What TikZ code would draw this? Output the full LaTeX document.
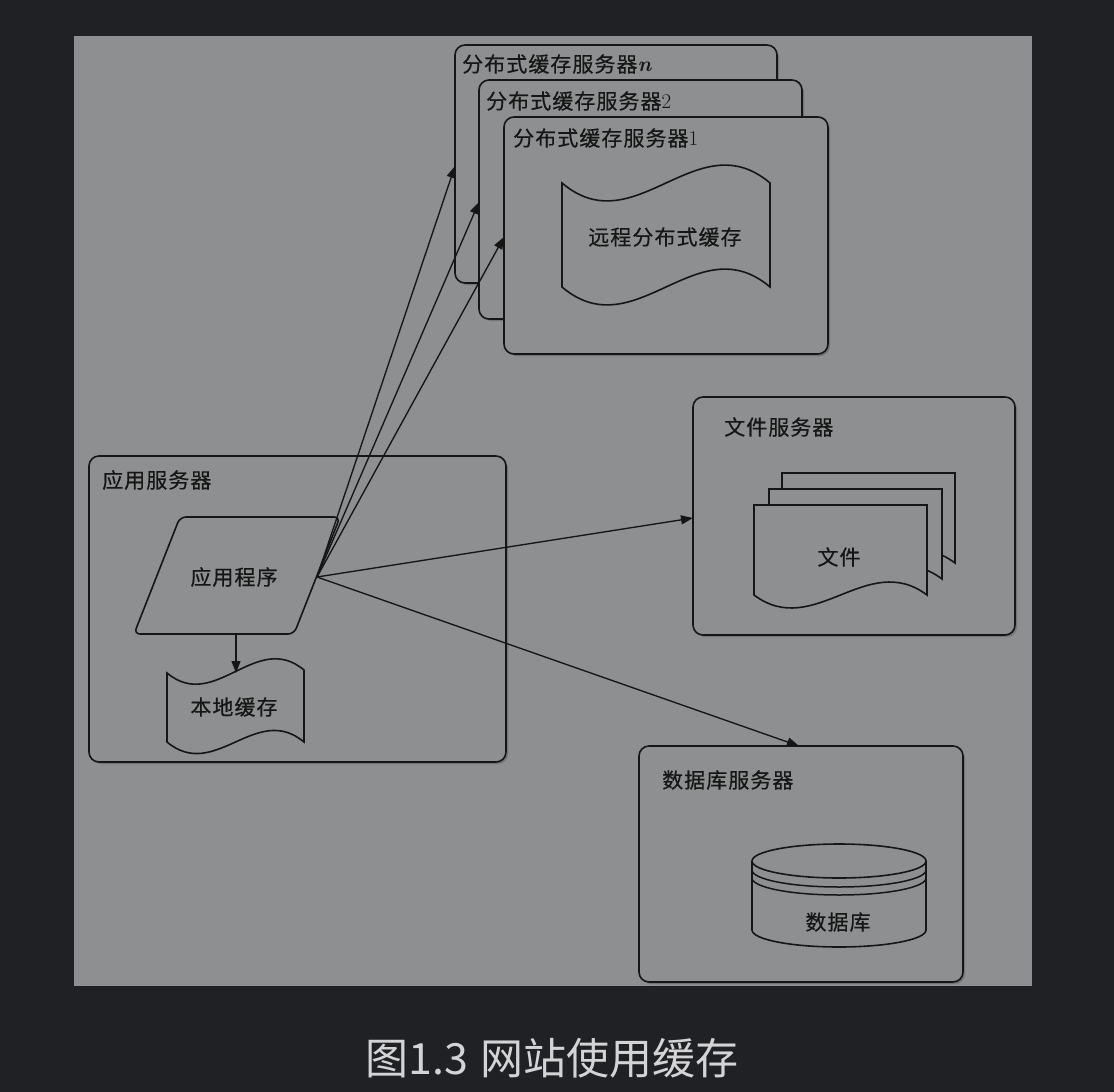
\documentclass[tikz,border=0pt]{standalone}
\usepackage{fontspec}
\newfontfamily\cjk{Noto Sans CJK SC}[LetterSpace=5,FakeBold=0.4]
\newfontfamily\cjkplain{Noto Sans CJK SC}
\usetikzlibrary{arrows.meta,shadows}
\definecolor{bgdark}{RGB}{32,33,36}
\definecolor{panel}{RGB}{142,143,144}
\definecolor{ink}{RGB}{22,22,22}
\definecolor{captxt}{RGB}{212,212,214}
\tikzset{
  srv/.style={draw=ink, line width=1.6pt, rounded corners=10pt, fill=panel,
    inner sep=0pt, outer sep=0pt, anchor=north west,
    drop shadow={shadow xshift=2pt, shadow yshift=-2pt, fill=black, opacity=0.18}},
  lbl/.style={font=\cjk\fontsize{21}{25}\selectfont, text=ink, anchor=west, inner sep=0pt},
  txt/.style={font=\cjk\fontsize{21}{25}\selectfont, text=ink, inner sep=0pt},
  arr/.style={draw=ink, line width=1.35pt, -{Triangle[length=12pt,width=9pt]}},
  shp/.style={draw=ink, line width=1.6pt, fill=panel},
}
\begin{document}
\begin{tikzpicture}[x=1pt,y=-1pt]
\useasboundingbox (0,0) rectangle (1114,1092);
\fill[bgdark] (0,0) rectangle (1114,1092);
\fill[panel] (74,36) rectangle (1032,986);

% distributed cache servers
\node[srv, minimum width=322pt, minimum height=238pt] (sn) at (455,45) {};
\node[lbl] (snl) at (462,64) {分布式缓存服务器{\normalfont\bfseries\itshape n}};
\node[srv, minimum width=323pt, minimum height=239pt] (s2) at (479,80) {};
\node[lbl] (s2l) at (486,101) {分布式缓存服务器{\normalfont 2}};
\node[srv, minimum width=324pt, minimum height=237pt] (s1) at (504,117) {};
\node[lbl] (s1l) at (513,138) {分布式缓存服务器{\normalfont 1}};
\filldraw[shp] (562,183) .. controls (635,245) and (697,121) .. (770,183)
  -- (770,287) .. controls (697,225) and (635,349) .. (562,287) -- cycle;
\node[txt] (rc) at (665,237) {远程分布式缓存};

% application server
\node[srv, minimum width=417pt, minimum height=306pt] (as) at (89,456) {};
\node[lbl] (asl) at (102,480) {应用服务器};
\filldraw[shp, rounded corners=6pt] (180,517) -- (340,517) -- (294,634) -- (134,634) -- cycle;
\node[txt] (prog) at (234,577) {应用程序};
\coordinate (appout) at (317,577);
\coordinate (progbot) at (236,634);
\coordinate (lctop) at (236,673);
\filldraw[shp] (167,673) .. controls (215,713) and (256,630) .. (304,670)
  -- (304,742) .. controls (256,702) and (215,782) .. (167,742) -- cycle;
\node[txt] (lc) at (234,707) {本地缓存};
\draw[arr] (progbot) -- (lctop);

% file server
\node[srv, minimum width=322pt, minimum height=238pt] (fs) at (693,397) {};
\node[lbl] (fsl) at (724,427) {文件服务器};
\foreach \dx/\dy in {28/-32, 15/-16, 0/0} {
  \filldraw[shp, shift={(\dx,\dy)}] (754,505) -- (927,505) -- (927,595)
    .. controls (867,550) and (814,640) .. (754,595) -- cycle;
}
\node[txt] (file) at (839,557) {文件};

% database server
\node[srv, minimum width=324pt, minimum height=236pt] (db) at (639,746) {};
\node[lbl] (dbl) at (662,780) {数据库服务器};
\filldraw[shp] (752,861) -- (752,930) .. controls (752,939.4) and (791,947) .. (839,947)
  .. controls (887,947) and (926,939.4) .. (926,930) -- (926,861);
\filldraw[shp] (839,861) ellipse [x radius=87, y radius=17];
\draw[draw=ink, line width=1.5pt] (752,870) .. controls (752,879.4) and (791,887) .. (839,887)
  .. controls (887,887) and (926,879.4) .. (926,870);
\draw[draw=ink, line width=1.5pt] (752,878) .. controls (752,887.4) and (791,895) .. (839,895)
  .. controls (887,895) and (926,887.4) .. (926,878);
\node[txt] (dbt) at (838,922) {数据库};

% connectors
\coordinate (tn) at (455,166);
\coordinate (t2) at (479,202);
\coordinate (t1) at (504,237);
\coordinate (tf) at (693,518);
\coordinate (td) at (799,746);
\draw[arr] (appout) -- (tn);
\draw[arr] (appout) -- (t2);
\draw[arr] (appout) -- (t1);
\draw[arr] (appout) -- (tf);
\draw[arr] (appout) -- (td);

% caption
\node[font=\cjkplain\fontsize{43}{50}\selectfont, text=captxt, inner sep=0pt] (cap) at (552,1058) {图1.3\hspace{0.28em}网站使用缓存};
\end{tikzpicture}
\end{document}
